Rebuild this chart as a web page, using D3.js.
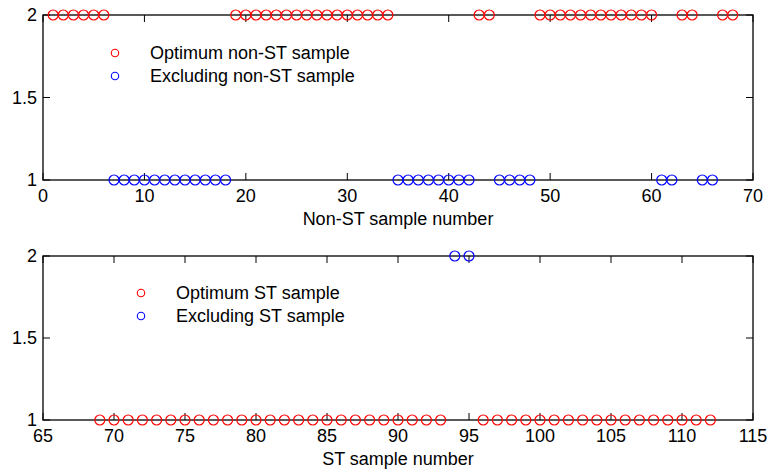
<!DOCTYPE html>
<html lang="en">
<head>
<meta charset="utf-8" />
<title>Sample selection</title>
<style>
	* { margin: 0; padding: 0; }
	body { background: white; }
	svg { display: block; }
	text { font-family: "Liberation Sans", Arial, sans-serif; fill: #000; }
	.frame { fill: none; stroke: #000; stroke-width: 1.3px; }
	.tick { stroke: #000; stroke-width: 1px; }
	.dot { fill: none; stroke-width: 1.2px; }
</style>
</head>
<body>
<script src="https://d3js.org/d3.v7.min.js"></script>
<script>

	// non-ST samples 1..68 : value 2 = optimum, 1 = excluded
	var nonStStart = 1;
	var nonStValues = [2,2,2,2,2,2, 1,1,1,1,1,1,1,1,1,1,1,1,
		2,2,2,2,2,2,2,2,2,2,2,2,2,2,2,2, 1,1,1,1,1,1,1,1, 2,2, 1,1,1,1,
		2,2,2,2,2,2,2,2,2,2,2,2, 1,1, 2,2, 1,1, 2,2];

	// ST samples 69..112 : value 1 = optimum, 2 = excluded
	var stStart = 69;
	var stValues = [1,1,1,1,1,1,1,1,1,1,1,1,1,1,1,1,1,1,1,1,1,1,1,1,1,
		2,2, 1,1,1,1,1,1,1,1,1,1,1,1,1,1,1,1,1];

	var nonStTicks = [0, 10, 20, 30, 40, 50, 60, 70];
	var stTicks = [65, 70, 75, 80, 85, 90, 95, 100, 105, 110, 115];
	var yTicks = [1, 1.5, 2];

	var nonStLegend = ["Optimum non-ST sample", "Excluding non-ST sample"];
	var stLegend = ["Optimum ST sample", "Excluding ST sample"];

	var W = 768, H = 471;
	var svg = d3.select("body").append("svg").attr("width", W).attr("height", H);

	var drawPanel = function(opt) {
		var x = d3.scaleLinear().domain(opt.xDomain).range([43, 753]);
		var y = d3.scaleLinear().domain([1, 2]).range([opt.bottom, opt.top]);
		var g = svg.append("g");
		var tl = 7;

		// ticks, inward on all four sides
		opt.xTicks.forEach(function(t) {
			g.append("line").attr("class", "tick")
				.attr("x1", x(t)).attr("x2", x(t))
				.attr("y1", opt.bottom).attr("y2", opt.bottom - tl);
			g.append("line").attr("class", "tick")
				.attr("x1", x(t)).attr("x2", x(t))
				.attr("y1", opt.top).attr("y2", opt.top + tl);
			g.append("text")
				.attr("x", x(t)).attr("y", opt.bottom + 22)
				.attr("text-anchor", "middle")
				.style("font-size", "18px")
				.text(t);
		});
		yTicks.forEach(function(t) {
			g.append("line").attr("class", "tick")
				.attr("x1", 43).attr("x2", 43 + tl)
				.attr("y1", y(t)).attr("y2", y(t));
			g.append("line").attr("class", "tick")
				.attr("x1", 753).attr("x2", 753 - tl)
				.attr("y1", y(t)).attr("y2", y(t));
			g.append("text")
				.attr("x", 37).attr("y", y(t) + 6)
				.attr("text-anchor", "end")
				.style("font-size", "18px")
				.text(t);
		});

		g.append("rect").attr("class", "frame")
			.attr("x", 43).attr("y", opt.top)
			.attr("width", 710).attr("height", opt.bottom - opt.top);

		g.append("text")
			.attr("x", 398).attr("y", opt.bottom + 45)
			.attr("text-anchor", "middle")
			.style("font-size", "18px")
			.text(opt.title);

		g.selectAll(".dot")
			.data(opt.values)
			.enter().append("circle")
			.attr("class", "dot")
			.attr("cx", function(d, i) { return x(opt.start + i); })
			.attr("cy", function(d) { return y(d); })
			.attr("r", 5)
			.style("stroke", function(d) { return d == opt.optimum ? "#ff0000" : "#0000ff"; });

		// legend
		opt.legend.forEach(function(s, i) {
			g.append("circle")
				.attr("cx", opt.legX).attr("cy", opt.legY + i * 23)
				.attr("r", 3.7)
				.style("fill", "none").style("stroke-width", "1.1px")
				.style("stroke", i == 0 ? "#ff0000" : "#0000ff");
			g.append("text")
				.attr("x", opt.legX + 35).attr("y", opt.legY + i * 23 + 6)
				.style("font-size", "18px")
				.text(s);
		});
	};

	drawPanel({ xDomain: [0, 70], top: 15, bottom: 180, xTicks: nonStTicks,
		values: nonStValues, start: nonStStart, optimum: 2,
		title: "Non-ST sample number", legend: nonStLegend, legX: 115, legY: 53 });

	drawPanel({ xDomain: [65, 115], top: 256, bottom: 420, xTicks: stTicks,
		values: stValues, start: stStart, optimum: 1,
		title: "ST sample number", legend: stLegend, legX: 141, legY: 293 });

</script>
</body>
</html>
